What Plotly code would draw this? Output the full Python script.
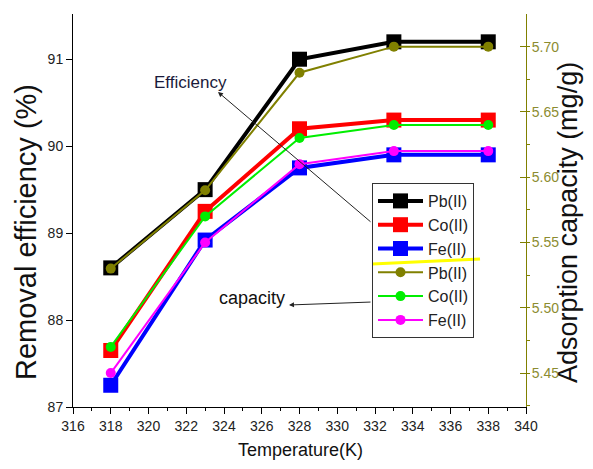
import plotly.graph_objects as go

# ---- data ----
temps = [318, 323, 328, 333, 338]
eff_pb = [88.6, 89.5, 91.0, 91.2, 91.2]
eff_co = [87.65, 89.25, 90.2, 90.3, 90.3]
eff_fe = [87.25, 88.92, 89.75, 89.9, 89.9]
cap_pb = [5.53, 5.59, 5.68, 5.70, 5.70]
cap_co = [5.47, 5.57, 5.63, 5.64, 5.64]
cap_fe = [5.45, 5.55, 5.61, 5.62, 5.62]
series_names = ["Pb(II)", "Co(II)", "Fe(II)"]
x_ticks = list(range(316, 341, 2))
y_ticks = [87, 88, 89, 90, 91]
y2_ticks = [5.45, 5.50, 5.55, 5.60, 5.65, 5.70]

OFF = 8  # page body margin
W, H = 593 - 2 * OFF, 469 - 2 * OFF
L, R, T, B = 73, 526, 14, 407  # plot area in screen pixels
FONT = "Liberation Sans, Arial, sans-serif"
OLIVE = "#808000"


def px(xp):
    return (xp - L) / (R - L)


def py(yp):
    return (B - yp) / (B - T)


fig = go.Figure()
eff_colors = ["#000000", "#ff0000", "#0000ff"]
cap_colors = [OLIVE, "#00ee00", "#ff00ff"]
for name, vals, c in zip(series_names, [eff_pb, eff_co, eff_fe], eff_colors):
    fig.add_trace(go.Scatter(
        x=temps, y=vals, name=name, mode="lines+markers",
        line=dict(color=c, width=4),
        marker=dict(symbol="square", size=15, color=c),
        yaxis="y"))
for name, vals, c in zip(series_names, [cap_pb, cap_co, cap_fe], cap_colors):
    fig.add_trace(go.Scatter(
        x=temps, y=vals, name=name, mode="lines+markers",
        line=dict(color=c, width=2),
        marker=dict(symbol="circle", size=10, color=c),
        yaxis="y2"))

fig.update_layout(
    width=W, height=H,
    margin=dict(l=L - OFF, r=W + OFF - R, t=T - OFF, b=H + OFF - B),
    paper_bgcolor="white", plot_bgcolor="white",
    font=dict(family=FONT, color="#222222", size=14),
    showlegend=True,
    legend=dict(x=px(372), y=py(183), xanchor="left", yanchor="top",
                bordercolor="#333333", borderwidth=1, bgcolor="rgba(0,0,0,0)",
                font=dict(size=16, color="#222222"), itemwidth=45,
                tracegroupgap=0),
    xaxis=dict(range=[316, 340], tickvals=x_ticks, ticks="outside", ticklen=6,
               tickcolor="black", showline=True, linecolor="black", linewidth=1,
               showgrid=False, zeroline=False,
               minor=dict(dtick=1, ticks="outside", ticklen=3, tickcolor="black"),
               tickfont=dict(size=14, color="#222222")),
    yaxis=dict(range=[87, 91.52], tickvals=y_ticks, ticks="outside", ticklen=6,
               tickcolor="black", showline=True, linecolor="black", linewidth=1,
               showgrid=False, zeroline=False,
               tickfont=dict(size=14, color="#222222")),
    yaxis2=dict(range=[5.424, 5.725], tickvals=y2_ticks, tickformat=".2f",
                overlaying="y", side="right", ticks="inside", ticklen=6,
                tickcolor=OLIVE, showline=True, linecolor=OLIVE, linewidth=1,
                showgrid=False, zeroline=False, ticklabelstandoff=2,
                minor=dict(dtick=0.025, ticks="outside", ticklen=3, tickcolor=OLIVE),
                tickfont=dict(size=14, color="#8c8c30")),
)


def label(text, xp, yp, size, color="#111111", angle=0):
    fig.add_annotation(text=text, xref="paper", yref="paper",
                       x=px(xp), y=py(yp), xanchor="center", yanchor="middle",
                       textangle=angle, showarrow=False,
                       font=dict(size=size, color=color))


# axis titles
label("Removal efficiency (%)", 26, 232, 29, angle=-90)
label("Adsorption capacity (mg/g)", 568, 223, 27, angle=-90)
label("Temperature(K)", 300, 450, 18)

# text labels
label("Efficiency", 190, 82, 17, color="#1a1a3a")
label("capacity", 252, 298, 18)


def arrow(head, tail):
    fig.add_annotation(text="", xref="paper", yref="paper",
                       x=px(head[0]), y=py(head[1]),
                       ax=tail[0] - head[0], ay=tail[1] - head[1],
                       axref="pixel", ayref="pixel",
                       showarrow=True, arrowhead=2, arrowsize=1, arrowwidth=1,
                       arrowcolor="#222222")


arrow((218, 92), (372, 223))
arrow((289, 305), (372, 302))

# yellow highlight line across legend
fig.add_shape(type="line", xref="paper", yref="paper", layer="above",
              x0=px(372), y0=py(264), x1=px(480), y1=py(259),
              line=dict(color="#ffff00", width=3))

fig.write_html("out.html")
